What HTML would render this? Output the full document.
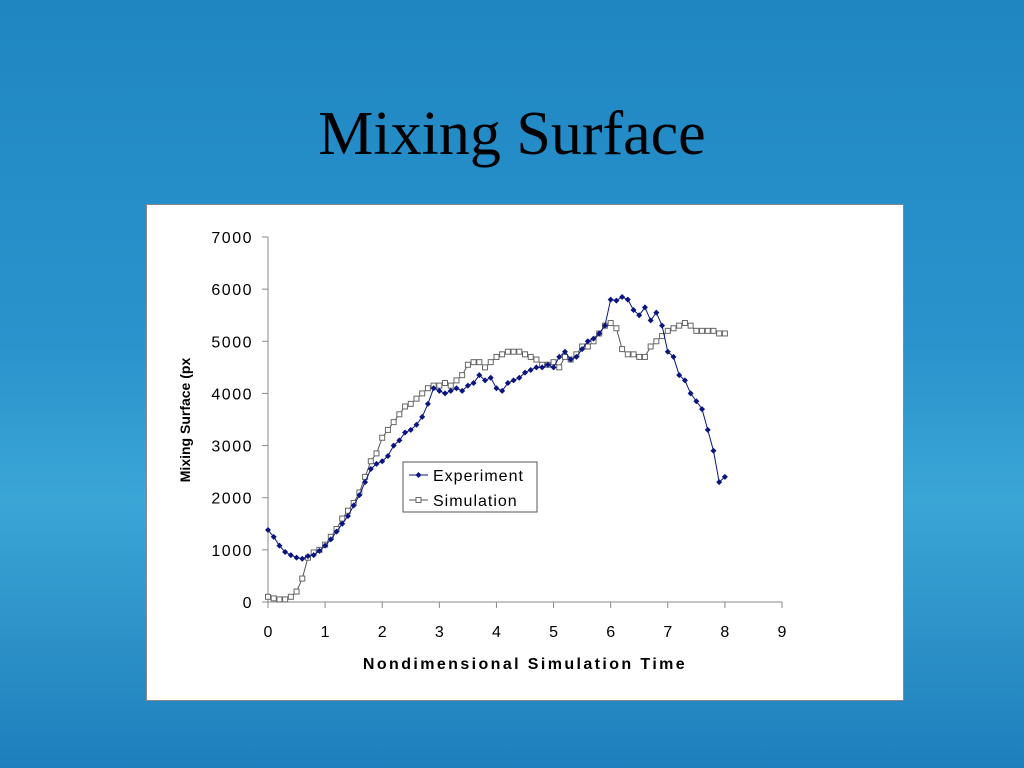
<!DOCTYPE html>
<html><head><meta charset="utf-8"><style>
body{margin:0;width:1024px;height:768px;overflow:hidden;background:linear-gradient(180deg,#1f86c2 0%,#2a93cc 45%,#3aa6d6 65%,#2b8fc6 85%,#1d7fbd 100%);font-family:"Liberation Sans",sans-serif}
#title{position:absolute;left:0;width:1024px;top:99px;text-align:center;font-family:"Liberation Serif",serif;font-size:62px;color:#000}
#panel{position:absolute;left:146px;top:204px;width:756px;height:495px;background:#fff;border:1px solid #888}
</style></head><body>
<div id="title">Mixing Surface</div>
<div id="panel"></div>
<svg id="chart" width="1024" height="768" style="position:absolute;left:0;top:0" font-family="Liberation Sans, sans-serif"></svg>
<script>
const xTicks=[0,1,2,3,4,5,6,7,8,9];
const yTicks=[0,1000,2000,3000,4000,5000,6000,7000];
const times=[];for(let i=0;i<=80;i++)times.push(i/10);
const experiment=[1380,1250,1080,960,900,850,830,880,900,980,1080,1200,1350,1500,1650,1850,2050,2300,2550,2650,2700,2800,3000,3100,3250,3300,3400,3550,3800,4100,4050,4000,4050,4100,4050,4150,4200,4350,4250,4300,4100,4050,4200,4250,4300,4400,4450,4500,4500,4550,4500,4700,4800,4650,4700,4850,5000,5050,5150,5300,5800,5780,5850,5800,5600,5500,5650,5400,5550,5300,4800,4700,4350,4250,4000,3850,3700,3300,2900,2300,2400];
const simulation=[100,70,50,50,100,200,450,850,950,1000,1100,1250,1400,1600,1750,1900,2100,2400,2700,2850,3150,3300,3450,3600,3750,3800,3900,4000,4100,4150,4150,4200,4150,4250,4350,4550,4600,4600,4500,4600,4700,4750,4800,4800,4800,4750,4700,4650,4550,4550,4600,4500,4700,4650,4750,4900,4900,5000,5150,5300,5350,5250,4850,4750,4750,4700,4700,4900,5000,5100,5200,5250,5300,5350,5300,5200,5200,5200,5200,5150,5150];
const svg=document.getElementById('chart');const NS='http://www.w3.org/2000/svg';
const X=v=>268+v*(782-268)/9, Y=v=>602-v*(602-237)/7000;
function mk(t,a,p){const e=document.createElementNS(NS,t);for(const k in a)e.setAttribute(k,a[k]);(p||svg).appendChild(e);return e;}
let e;
e=mk('line',{x1:268,y1:237,x2:268,y2:602,stroke:'#888'});


e=mk('line',{x1:268,y1:602,x2:782,y2:602,stroke:'#888'});


yTicks.forEach(v=>{mk('line',{x1:262,y1:Y(v),x2:268,y2:Y(v),stroke:'#888'});
 e=mk('text',{x:253,y:Y(v)+6,'text-anchor':'end','font-size':16,'letter-spacing':'1.5'});e.textContent=v;
 
 });
xTicks.forEach(v=>{mk('line',{x1:X(v),y1:602,x2:X(v),y2:608,stroke:'#888'});
 e=mk('text',{x:X(v),y:637,'text-anchor':'middle','font-size':16});e.textContent=v;
 
 });
e=mk('text',{x:525,y:669,'text-anchor':'middle','font-size':16,'font-weight':'bold','letter-spacing':'2.4'});e.textContent='Nondimensional Simulation Time';


e=mk('text',{x:190,y:420,'text-anchor':'middle','font-size':14,'font-weight':'bold',transform:'rotate(-90 190 420)'});e.textContent='Mixing Surface (px';


function series(vals,color,name,square){
 const g=mk('g',{});
 
 mk('polyline',{points:times.map((t,i)=>X(t)+','+Y(vals[i])).join(' '),fill:'none',stroke:color,'stroke-width':1},g);
 times.forEach((t,i)=>{if(square)mk('rect',{x:X(t)-2.5,y:Y(vals[i])-2.5,width:5,height:5,fill:'#fff',stroke:'#666'},g);
  else mk('path',{d:`M${X(t)} ${Y(vals[i])-3}l3 3l-3 3l-3-3z`,fill:'#0a1580'},g);});
}
series(simulation,'#555','simulation-series',true);
series(experiment,'#0a1580','experiment-series',false);
const lg=mk('g',{});

mk('rect',{x:403,y:462,width:134,height:50,fill:'#fff',stroke:'#555'},lg);
mk('line',{x1:409,y1:475,x2:428,y2:475,stroke:'#0a1580'},lg);mk('path',{d:'M418.5 472l3 3l-3 3l-3-3z',fill:'#0a1580'},lg);
mk('line',{x1:409,y1:500,x2:428,y2:500,stroke:'#555'},lg);mk('rect',{x:416,y:497.5,width:5,height:5,fill:'#fff',stroke:'#666'},lg);
e=mk('text',{x:433,y:481,'font-size':16,'letter-spacing':'1'},lg);e.textContent='Experiment';


e=mk('text',{x:433,y:506,'font-size':16,'letter-spacing':'1'},lg);e.textContent='Simulation';


</script>
</body></html>
